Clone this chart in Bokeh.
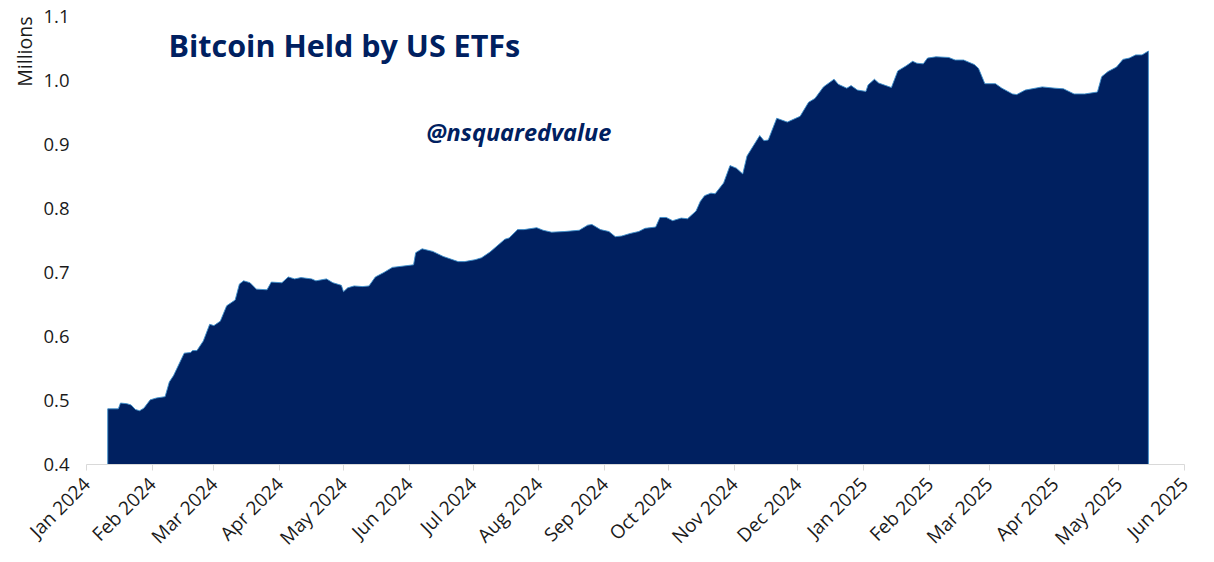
import numpy as np
import pandas as pd
from bokeh.embed import file_html
from bokeh.models import DatetimeTickFormatter, FixedTicker, Label, MonthsTicker, NumeralTickFormatter, Range1d, Title
from bokeh.plotting import figure
from bokeh.resources import INLINE

# days since 1 Jan 2024
days = [
    10, 11, 15, 16, 19, 21, 23, 25, 27, 30, 33, 37, 39, 41, 46, 49, 50, 52, 55, 58, 60, 63, 66, 70, 72, 74, 77, 80,
    85, 87, 92, 95, 98, 101, 106, 108, 113, 116, 120, 121, 123, 126, 130, 133, 136, 140, 144, 154, 155, 158, 163,
    168, 175, 178, 183, 186, 190, 197, 199, 203, 206, 212, 215, 219, 225, 232, 236, 238, 242, 246, 249, 252, 256,
    260, 263, 268, 270, 273, 276, 280, 283, 287, 289, 291, 294, 296, 300, 303, 306, 309, 311, 314, 317, 319, 321,
    325, 330, 336, 340, 343, 347, 352, 354, 358, 360, 363, 367, 368, 371, 373, 379, 382, 386, 389, 391, 394, 396,
    400, 406, 409, 413, 418, 420, 423, 428, 431, 436, 438, 442, 450, 456, 460, 465, 470, 476, 478, 481, 485, 488,
    491, 494, 497, 500,
]
# bitcoin held, millions
held = [
    0.487, 0.487, 0.487, 0.496, 0.495, 0.493, 0.486, 0.484, 0.488, 0.501, 0.504, 0.506, 0.529, 0.539, 0.574, 0.575,
    0.578, 0.578, 0.593, 0.619, 0.617, 0.624, 0.648, 0.657, 0.682, 0.687, 0.684, 0.674, 0.673, 0.685, 0.684, 0.693,
    0.690, 0.692, 0.690, 0.687, 0.690, 0.684, 0.680, 0.670, 0.676, 0.679, 0.678, 0.679, 0.693, 0.700, 0.708, 0.712,
    0.731, 0.737, 0.733, 0.725, 0.717, 0.717, 0.720, 0.723, 0.732, 0.752, 0.754, 0.767, 0.767, 0.770, 0.766, 0.763,
    0.764, 0.766, 0.774, 0.775, 0.767, 0.764, 0.756, 0.757, 0.761, 0.764, 0.769, 0.771, 0.786, 0.786, 0.781, 0.785,
    0.784, 0.796, 0.811, 0.820, 0.824, 0.823, 0.840, 0.867, 0.863, 0.854, 0.882, 0.898, 0.914, 0.906, 0.907, 0.941,
    0.935, 0.944, 0.966, 0.972, 0.990, 1.002, 0.994, 0.988, 0.992, 0.985, 0.983, 0.993, 1.002, 0.996, 0.989, 1.015,
    1.023, 1.030, 1.027, 1.026, 1.035, 1.037, 1.036, 1.032, 1.032, 1.025, 1.019, 0.995, 0.995, 0.988, 0.979, 0.978,
    0.985, 0.990, 0.988, 0.987, 0.979, 0.979, 0.982, 1.006, 1.014, 1.021, 1.033, 1.035, 1.040, 1.040, 1.046,
]
y_ticks = [0.4, 0.5, 0.6, 0.7, 0.8, 0.9, 1.0, 1.1]

NAVY = "#002060"
start = pd.Timestamp("2024-01-01")
end = pd.Timestamp("2025-06-01")
dates = start + pd.to_timedelta(days, unit="D")

p = figure(
    width=1214,
    height=562,
    x_axis_type="datetime",
    x_range=Range1d(start, end),
    y_range=Range1d(y_ticks[0], y_ticks[-1]),
    output_backend="svg",
    toolbar_location=None,
    min_border_left=86,
    min_border_right=30,
    min_border_top=16,
    min_border_bottom=96,
    outline_line_color=None,
)
p.grid.visible = False

p.varea(dates, y1=y_ticks[0], y2=held, fill_color=NAVY)
# thin lighter edge around the area
edge_x = np.concatenate([dates[:1], dates, dates[-1:]])
edge_y = [y_ticks[0]] + held + [y_ticks[0]]
p.line(edge_x, edge_y, line_color="#3d8ecb", line_width=0.9)

p.xaxis.ticker = MonthsTicker(months=list(range(12)))
p.xaxis.formatter = DatetimeTickFormatter(months="%b %Y", days="%b %Y")
p.xaxis.major_label_orientation = np.pi / 4
p.xaxis.major_label_standoff = 10
p.xaxis.major_label_text_font = "Open Sans"
p.xaxis.major_label_text_font_size = "19px"
p.xaxis.major_label_text_color = "#1a1a1a"
p.xaxis.axis_line_color = "#d9d9d9"
p.xaxis.major_tick_line_color = "#d9d9d9"
p.xaxis.major_tick_out = 6
p.xaxis.major_tick_in = 0
p.xaxis.minor_tick_line_color = None

p.yaxis.ticker = FixedTicker(ticks=y_ticks)
p.yaxis.formatter = NumeralTickFormatter(format="0.0")
p.yaxis.major_label_standoff = 11
p.yaxis.major_label_text_font = "Open Sans"
p.yaxis.major_label_text_font_size = "18.5px"
p.yaxis.major_label_text_color = "#1a1a1a"
p.yaxis.axis_line_color = None
p.yaxis.major_tick_line_color = None
p.yaxis.minor_tick_line_color = None

p.add_layout(Title(text="Millions", align="right", standoff=5, text_font="Open Sans", text_font_size="19.5px",
                   text_font_style="normal", text_color="#1a1a1a"), "left")
p.add_layout(Label(x=82, y=420, x_units="screen", y_units="screen", text="Bitcoin Held by US ETFs",
                   text_font="Open Sans", text_font_size="30.5px", text_font_style="bold", text_color=NAVY,
                   text_baseline="alphabetic"))
p.add_layout(Label(x=340, y=333, x_units="screen", y_units="screen", text="@nsquaredvalue",
                   text_font="Open Sans", text_font_size="23.5px", text_font_style="bold italic", text_color=NAVY,
                   text_baseline="alphabetic"))

open("out.html", "w").write(file_html(p, INLINE))
